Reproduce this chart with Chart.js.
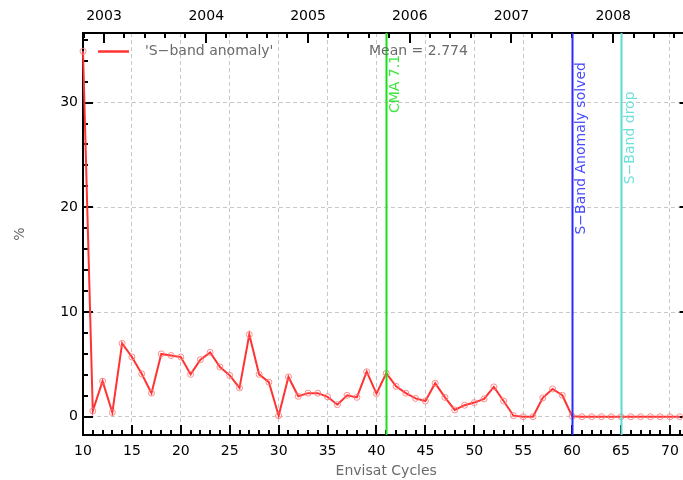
<!DOCTYPE html>
<html>
<head>
<meta charset="utf-8">
<script src="https://cdn.jsdelivr.net/npm/chart.js@4"></script>
<style>
  html, body { margin: 0; padding: 0; overflow: hidden; background: #fff; }
  canvas { display: block; }
</style>
</head>
<body>
<canvas id="chart" width="700" height="480"></canvas>
<script>
// Envisat cycle numbers and the S-band anomaly percentage per cycle
const cycles = [10, 11, 12, 13, 14, 15, 16, 17, 18, 19, 20, 21, 22, 23, 24, 25, 26, 27, 28, 29,
                30, 31, 32, 33, 34, 35, 36, 37, 38, 39, 40, 41, 42, 43, 44, 45, 46, 47, 48, 49,
                50, 51, 52, 53, 54, 55, 56, 57, 58, 59, 60, 61, 62, 63, 64, 65, 66, 67, 68, 69,
                70, 71];
const anomaly = [34.9, 0.55, 3.4, 0.4, 7.0, 5.7, 4.1, 2.25, 6.0, 5.85, 5.7, 4.05, 5.45, 6.15, 4.75, 3.95, 2.75, 7.85, 4.05, 3.3,
                 0.1, 3.8, 1.95, 2.25, 2.25, 1.9, 1.15, 2.05, 1.85, 4.3, 2.2, 4.15, 2.9, 2.25, 1.75, 1.5, 3.2, 1.85, 0.65, 1.1,
                 1.35, 1.7, 2.85, 1.5, 0.1, 0.0, 0.0, 1.8, 2.65, 2.05, 0.05, 0, 0, 0, 0, 0, 0, 0, 0, 0,
                 0, 0];

// Axis tick values
const cycleTicks = [10, 15, 20, 25, 30, 35, 40, 45, 50, 55, 60, 65, 70];
const percentTicks = [0, 10, 20, 30];
// Start of each calendar year expressed in cycles (top axis)
const yearCycles = [12.15, 22.6, 33.0, 43.4, 53.8, 64.2];
const yearLabels = ['2003', '2004', '2005', '2006', '2007', '2008'];

// Events marked by vertical lines
const eventCycles = [41, 60, 65];
const eventLabels = ['CMA 7.1', 'S\u2212Band Anomaly solved', 'S\u2212Band drop'];
const eventLabelStart = [29.0, 17.4, 22.2];
const eventColors = ['#18e018', '#2b2bff', '#5cdcd4'];
const eventTextColors = ['#3ee83e', '#4a4aff', '#6ee0da'];

const seriesLabel = "'S\u2212band anomaly'";
const meanText = 'Mean = 2.774';

const FONT = '"DejaVu Sans", "Liberation Sans", sans-serif';
const GREY = '#6a6a6a';

// Inward tick marks and the plot frame
const framePlugin = {
  id: 'frame',
  beforeDatasetsDraw(chart) {
    const { ctx, chartArea: a, scales } = chart;
    const x = scales.x, y = scales.y;
    ctx.save();
    ctx.strokeStyle = '#000';
    ctx.lineWidth = 2;
    ctx.strokeRect(a.left, a.top, a.right - a.left, a.bottom - a.top);

    ctx.beginPath();
    // bottom: one tick per cycle, long every 5
    for (let c = Math.ceil(x.min); c <= x.max; c++) {
      const px = Math.round(x.getPixelForValue(c));
      const len = c % 5 === 0 ? 10 : 5;
      ctx.moveTo(px, a.bottom);
      ctx.lineTo(px, a.bottom - len);
    }
    // left and right: tick every 2 %, long every 10
    for (let v = Math.ceil(y.min / 2) * 2; v <= y.max; v += 2) {
      const py = Math.round(y.getPixelForValue(v));
      const len = v % 10 === 0 ? 10 : 5;
      ctx.moveTo(a.left, py);
      ctx.lineTo(a.left + len, py);
      ctx.moveTo(a.right, py);
      ctx.lineTo(a.right - len, py);
    }
    // top: year ticks with four minor divisions
    const n = yearCycles.length;
    const step = (yearCycles[n - 1] - yearCycles[0]) / (n - 1) / 5;
    let start = yearCycles[0];
    while (start - step >= x.min) start -= step;
    let k = Math.round((yearCycles[0] - start) / step);
    for (let c = start; c <= x.max + 1e-6; c += step) {
      const px = Math.round(x.getPixelForValue(c));
      const major = ((k % 5) + 5) % 5 === 0;
      const len = major ? 10 : 5;
      ctx.moveTo(px, a.top);
      ctx.lineTo(px, a.top + len);
      k--;
    }
    ctx.stroke();
    ctx.restore();
  },
  afterDatasetsDraw(chart) {
    const { ctx, chartArea: a, scales } = chart;
    const x = scales.x, y = scales.y;
    ctx.save();
    // event lines and rotated labels
    eventCycles.forEach((c, i) => {
      const px = Math.round(x.getPixelForValue(c)) + 0.5;
      ctx.strokeStyle = eventColors[i];
      ctx.lineWidth = 2;
      ctx.beginPath();
      ctx.moveTo(px, a.top);
      ctx.lineTo(px, a.bottom);
      ctx.stroke();
      ctx.save();
      ctx.translate(px + 9, y.getPixelForValue(eventLabelStart[i]));
      ctx.rotate(-Math.PI / 2);
      ctx.fillStyle = eventTextColors[i];
      ctx.font = '14px ' + FONT;
      ctx.textAlign = 'left';
      ctx.textBaseline = 'middle';
      ctx.fillText(eventLabels[i], 0, 0);
      ctx.restore();
    });
    // legend sample and mean
    const ds = chart.data.datasets[0];
    const ly = a.top + 18.5;
    ctx.strokeStyle = ds.borderColor;
    ctx.lineWidth = 2.5;
    ctx.beginPath();
    ctx.moveTo(a.left + 15, ly);
    ctx.lineTo(a.left + 46, ly);
    ctx.stroke();
    ctx.fillStyle = GREY;
    ctx.font = '14px ' + FONT;
    ctx.textAlign = 'left';
    ctx.textBaseline = 'middle';
    ctx.fillText(ds.label, a.left + 62, ly);
    ctx.fillText(meanText, a.left + 286, ly);
    ctx.restore();
  }
};

new Chart(document.getElementById('chart'), {
  type: 'line',
  data: {
    datasets: [{
      label: seriesLabel,
      data: cycles.map((c, i) => ({ x: c, y: anomaly[i] })),
      borderColor: '#ff3333',
      borderWidth: 2,
      pointRadius: 3,
      pointHoverRadius: 3,
      pointBorderWidth: 1,
      pointBorderColor: 'rgba(255,120,120,0.85)',
      pointBackgroundColor: 'rgba(255,255,255,0)',
      tension: 0,
      clip: false
    }]
  },
  options: {
    responsive: false,
    animation: false,
    devicePixelRatio: 1,
    layout: { padding: { left: 0, right: 10.5, top: 0, bottom: 0 } },
    plugins: { legend: { display: false }, tooltip: { enabled: false } },
    scales: {
      x: {
        type: 'linear',
        position: 'bottom',
        min: 10,
        max: 72,
        afterBuildTicks: s => { s.ticks = cycleTicks.map(v => ({ value: v })); },
        afterFit: s => { s.height = 45; },
        ticks: { autoSkip: false, maxRotation: 0, padding: 8, color: '#000', font: { family: FONT, size: 14 } },
        grid: { display: true, drawTicks: false, color: '#c8c8c8', lineWidth: 1 },
        border: { display: false, dash: [4, 3] },
        title: { display: true, text: 'Envisat Cycles', color: GREY, font: { family: FONT, size: 14 }, padding: { top: 0, bottom: 0 } }
      },
      x2: {
        type: 'linear',
        position: 'top',
        min: 10,
        max: 72,
        afterBuildTicks: s => { s.ticks = yearCycles.map(v => ({ value: v })); },
        afterFit: s => { s.height = 33; },
        ticks: {
          autoSkip: false, maxRotation: 0, padding: 8, color: '#000', font: { family: FONT, size: 14 },
          callback: (v, i) => yearLabels[i]
        },
        grid: { display: false, drawTicks: false },
        border: { display: false }
      },
      y: {
        type: 'linear',
        position: 'left',
        min: -1.745,
        max: 36.645,
        afterBuildTicks: s => { s.ticks = percentTicks.map(v => ({ value: v })); },
        afterFit: s => { s.width = 83; },
        ticks: { padding: 5, color: '#000', font: { family: FONT, size: 14 } },
        grid: { display: true, drawTicks: false, color: '#c8c8c8', lineWidth: 1 },
        border: { display: false, dash: [4, 3] },
        title: { display: true, text: '%', color: GREY, font: { family: FONT, size: 14 }, padding: { top: 12, bottom: 0 } }
      }
    }
  },
  plugins: [framePlugin]
});
</script>
</body>
</html>
